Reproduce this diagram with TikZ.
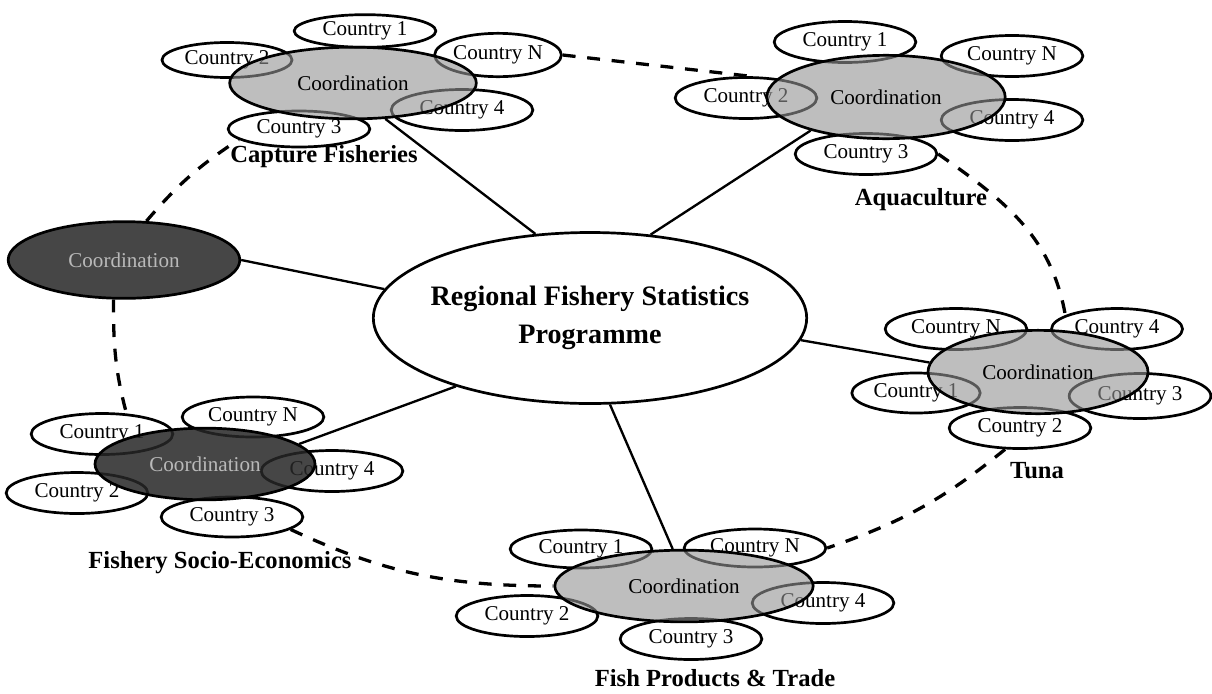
\documentclass[tikz,border=0pt]{standalone}
\usepackage{fontspec}
\setmainfont{Liberation Serif}
\usetikzlibrary{shapes.geometric}

\begin{document}
\begin{tikzpicture}
    [x=0.03cm,y=-0.03cm,
     every node/.style={ellipse,draw,line width=2.3pt,inner sep=0pt,font=\fontsize{18}{20}\selectfont},
     country/.style={fill=white,minimum width=4.25cm,minimum height=1.23cm},
     coord/.style={fill=gray!85,fill opacity=0.6,text opacity=1},
     darkcoord/.style={fill=black!85,fill opacity=0.85,text opacity=1,text=gray!55},
     prog/.style={fill=white,minimum width=13cm,minimum height=5.13cm,inner xsep=-0.4cm,
                  align=center,font=\fontsize{24}{32}\selectfont\bfseries},
     title/.style={draw=none,rectangle,font=\fontsize{21}{24}\selectfont\bfseries},
     ring/.style={line width=2.8pt,dash pattern=on 11pt off 10pt}]
    \useasboundingbox (0,0) rectangle (1212,693);

    \node[prog] (prog) at (590,318) {Regional Fishery Statistics\\Programme};

    % Capture Fisheries
    \node[country,minimum height=0.98cm] (cap-1) at (365,31) {Country 1};
    \node[country,minimum width=3.9cm,minimum height=1.05cm] (cap-2) at (227,60) {Country 2};
    \node[country,minimum width=3.7cm,minimum height=1.3cm] (cap-n) at (498,55) {Country N};
    \node[country] (cap-4) at (462,110) {Country 4};
    \node[country,minimum height=1.08cm] (cap-3) at (299,129) {Country 3};
    \node[coord,minimum width=7.4cm,minimum height=2.15cm] (cap-c) at (353,83) {Coordination};
    \node[title] (cap-t) at (324,157) {Capture Fisheries};

    % Aquaculture
    \node[country] (aq-1) at (845,42) {Country 1};
    \node[country] (aq-n) at (1012,56) {Country N};
    \node[country] (aq-2) at (746,98) {Country 2};
    \node[country] (aq-4) at (1012,120) {Country 4};
    \node[country] (aq-3) at (866,154) {Country 3};
    \node[coord,minimum width=7.15cm,minimum height=2.5cm] (aq-c) at (886,97) {Coordination};
    \node[title] (aq-t) at (921,200) {Aquaculture};

    % seule
    \node[darkcoord,minimum width=6.95cm,minimum height=2.3cm] (lone-c) at (124,260) {Coordination};

    % Tuna
    \node[country] (tu-n) at (956,329) {Country N};
    \node[country,minimum width=3.93cm] (tu-4) at (1117,329) {Country 4};
    \node[country,minimum width=3.85cm,minimum height=1.2cm] (tu-1) at (916,393) {Country 1};
    \node[country,minimum height=1.35cm] (tu-3) at (1140,396) {Country 3};
    \node[country] (tu-2) at (1020,428) {Country 2};
    \node[coord,minimum width=6.6cm,minimum height=2.5cm] (tu-c) at (1038,372) {Coordination};
    \node[title] (tu-t) at (1037,471) {Tuna};

    % Fishery Socio-Economics
    \node[country] (so-1) at (102,434) {Country 1};
    \node[country,minimum height=1.2cm] (so-n) at (253,417) {Country N};
    \node[country] (so-4) at (332,471) {Country 4};
    \node[country] (so-2) at (77,493) {Country 2};
    \node[country,minimum height=1.2cm] (so-3) at (232,517) {Country 3};
    \node[darkcoord,minimum width=6.6cm,minimum height=2.15cm] (so-c) at (205,464) {Coordination};
    \node[title] (so-t) at (220,563) {Fishery Socio-Economics};

    % Fish Products & Trade
    \node[country,minimum height=1.14cm] (fi-1) at (581,549) {Country 1};
    \node[country,minimum height=1.14cm] (fi-n) at (755,548) {Country N};
    \node[country] (fi-2) at (527,616) {Country 2};
    \node[country] (fi-4) at (823,603) {Country 4};
    \node[country] (fi-3) at (691,639) {Country 3};
    \node[coord,minimum width=7.75cm,minimum height=2.15cm] (fi-c) at (684,586) {Coordination};
    \node[title] (fi-t) at (715,678) {Fish Products \& Trade};

    \foreach \from/\to in {prog.123/cap-c.-48, prog.54/aq-c.204,
                           prog.172/lone-c.east, prog.-6/tu-c.175,
                           prog.207/so-c.12, prog.-77/fi-c.107}
    \draw[line width=2pt] (\from) -- (\to);

    % anneau en pointille
    \draw[ring] (cap-n.east) -- (aq-2.80);
    \draw[ring] (aq-3.east) to[out=-35,in=100] (tu-4.165);
    \draw[ring] (tu-2.-125) to[bend left=10] (fi-n.east);
    \draw[ring] (so-3.-12) to[out=-25,in=180] (fi-c.west);
    \draw[ring] (lone-c.-105) to[out=-90,in=105] (so-1.40);
    \draw[ring] (lone-c.60) to[bend left=8] (cap-3.190);
\end{tikzpicture}
\end{document}
